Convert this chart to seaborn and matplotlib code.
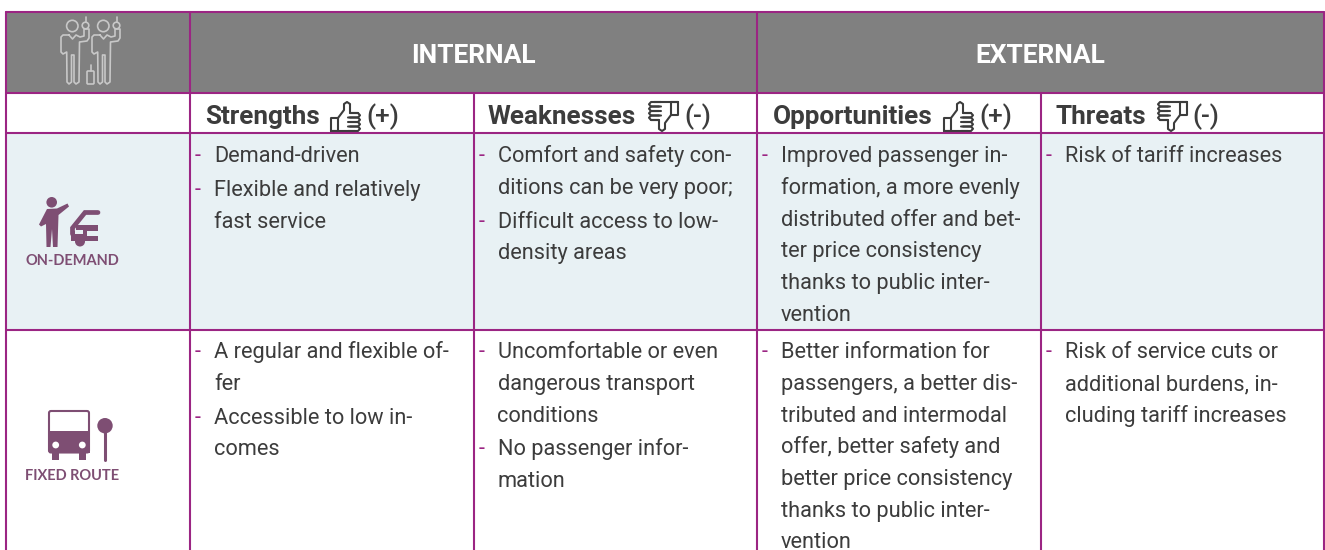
import matplotlib
matplotlib.use("Agg")
import matplotlib.pyplot as plt
import seaborn as sns
from matplotlib.patches import Circle, FancyBboxPatch

sns.set_theme(style="white")
plt.rcParams["font.family"] = ["Roboto", "DejaVu Sans"]

LINE = "#9b2583"
GREY = "#808080"
PALE = "#e8f1f4"
INK = "#3c3c3c"
ICON = "#7e4e73"
HAND = "#c8c8c8"

group_labels = ["INTERNAL", "EXTERNAL"]
column_names = ["Strengths", "Weaknesses", "Opportunities", "Threats"]
column_signs = ["(+)", "(-)", "(+)", "(-)"]
row_labels = ["ON-DEMAND", "FIXED ROUTE"]

on_demand_cells = [
    [["Demand-driven"], ["Flexible and relatively", "fast service"]],
    [["Comfort and safety con-", "ditions can be very poor;"],
     ["Difficult access to low-", "density areas"]],
    [["Improved passenger in-", "formation, a more evenly", "distributed offer and bet-",
      "ter price consistency", "thanks to public inter-", "vention"]],
    [["Risk of tariff increases"]],
]
fixed_route_cells = [
    [["A regular and flexible of-", "fer"], ["Accessible to low in-", "comes"]],
    [["Uncomfortable or even", "dangerous transport", "conditions"],
     ["No passenger infor-", "mation"]],
    [["Better information for", "passengers, a better dis-", "tributed and intermodal",
      "offer, better safety and", "better price consistency", "thanks to public inter-",
      "vention"]],
    [["Risk of service cuts or", "additional burdens, in-", "cluding tariff increases"]],
]

# table layout in pixels
col_x = [6, 190, 473.5, 757, 1041, 1323.5]
row_y = [12, 93, 132.5, 330, 552]
head_x = [205, 488, 773, 1055]
thumb_x = [331, 648, 944, 1157]
sign_x = [366, 684, 979, 1192]


def hline(ax, y, x0, x1):
    sns.lineplot(x=[x0, x1], y=[y, y], ax=ax, color=LINE, linewidth=1.5, sort=False,
                 estimator=None, legend=False, zorder=5)


def vline(ax, x, y0, y1):
    sns.lineplot(x=[x, x], y=[y0, y1], ax=ax, color=LINE, linewidth=1.5, sort=False,
                 estimator=None, legend=False, zorder=5)


def band(ax, x0, x1, y0, y1, color, z=1):
    ax.fill([x0, x1, x1, x0], [y0, y0, y1, y1], color=color, lw=0, zorder=z)


def thumb(ax, ox, oy, down=False):
    # drawn thumb up from (0,0) top left, down version is turned 180 deg
    def px(x, y):
        return (ox + 30 - x, oy + 29 - y) if down else (ox + x, oy + y)

    outline = [(0, 29), (0, 16), (7, 16), (13, 8), (13, 2), (16, 0), (19, 2), (19, 11), (27, 11)]
    ax.plot(*zip(*[px(*p) for p in outline]), color=INK, lw=1.5, zorder=4, solid_joinstyle="round")
    ax.plot(*zip(*[px(*p) for p in [(7, 16), (7, 29), (0, 29), (24, 29)]]), color=INK, lw=1.5, zorder=4)
    for y0, y1 in [(11, 15.5), (15.5, 20), (20, 24.5), (24.5, 29)]:
        ax.plot(*zip(*[px(*p) for p in [(19, y0), (27, y0), (29, (y0 + y1) / 2), (27, y1), (17, y1)]]),
                color=INK, lw=1.5, zorder=4, solid_joinstyle="round")


def person(ax, dx):
    outline = [(69, 35), (63, 35), (61, 37), (61, 52), (63, 54), (66.7, 52), (67, 82), (69, 84), (71.5, 82),
               (71.5, 55), (74, 55), (74, 82), (76, 84), (79, 82), (79.5, 42), (87, 41), (89, 38), (89, 29),
               (84, 29), (84, 36), (80, 37), (76, 35), (72.5, 39), (69, 35)]
    ax.plot([p[0] + dx for p in outline], [p[1] for p in outline], color=HAND, lw=1.2, zorder=4,
            solid_joinstyle="round")
    ax.add_patch(Circle((72.3 + dx, 26), 5.7, fc="none", ec=HAND, lw=1.2, zorder=4))
    ax.add_patch(Circle((85.5 + dx, 25.5), 3.3, fc="none", ec=HAND, lw=1.2, zorder=4))
    ax.plot([85.5 + dx, 85.5 + dx], [17, 22], color=HAND, lw=1.2, zorder=4)


def people_icon(ax):
    person(ax, 0)
    person(ax, 31)
    ax.add_patch(FancyBboxPatch((87, 71), 7, 13, boxstyle="round,pad=0,rounding_size=1", fc="none", ec=HAND,
                                lw=1.2, zorder=4))
    ax.plot([90.5, 90.5], [65, 71], color=HAND, lw=1.2, zorder=4)


def on_demand_icon(ax):
    ax.add_patch(Circle((51.7, 202.3), 5.3, color=ICON, lw=0, zorder=4))
    body = [(47, 209), (57, 208.5), (67.5, 203.5), (69, 206.5), (58.5, 215), (57.5, 247), (53, 247), (52, 229),
            (50.5, 247), (46.5, 247), (46, 224), (41, 226.5), (39, 224.5)]
    ax.fill(*zip(*body), color=ICON, lw=0, zorder=4)
    ax.plot([98, 85, 72.5, 72.5], [212.5, 212.5, 228, 234], color=ICON, lw=3.4, zorder=4, solid_joinstyle="miter")
    band(ax, 71, 98, 236, 241, ICON, 4)
    band(ax, 76, 98, 225, 231, ICON, 4)
    band(ax, 71, 87, 231, 236, ICON, 4)
    band(ax, 75, 83, 230, 233.5, PALE, 4.5)
    ax.add_patch(Circle((80, 241.5), 5, color=ICON, lw=0, zorder=4))


def bus_icon(ax):
    ax.add_patch(FancyBboxPatch((49, 411), 40, 41.5, boxstyle="round,pad=0,rounding_size=2", fc="white", ec=ICON,
                                lw=1.5, zorder=4))
    band(ax, 48.5, 89.5, 431, 453, ICON, 4.2)
    for x in [55.7, 82.3]:
        ax.add_patch(Circle((x, 445), 3.4, color="white", lw=0, zorder=4.5))
    for x in [52, 79]:
        band(ax, x, x + 7, 452, 460, ICON, 4)
    ax.add_patch(Circle((105, 425.7), 7.7, color=ICON, lw=0, zorder=4))
    ax.plot([105, 105], [430, 460], color=ICON, lw=2.2, zorder=4)


def cell_text(ax, x, baseline, bullets):
    y = baseline
    for lines in bullets:
        ax.text(x + 5, round(y), "-", color=LINE, fontsize=15.7, va="baseline", zorder=6)
        for line in lines:
            ax.text(x + 24, round(y), line, color=INK, fontsize=15.7, va="baseline", zorder=6)
            y += 31.75
        y += 2


fig = plt.figure(figsize=(13.25, 5.5), dpi=100)
ax = fig.add_axes([0, 0, 1, 1])
ax.set_xlim(0, 1325)
ax.set_ylim(550, 0)
ax.axis("off")

band(ax, col_x[0], col_x[-1], row_y[0], row_y[1], GREY)
band(ax, col_x[0], col_x[-1], row_y[2], row_y[3], PALE)

for y in row_y[:4]:
    hline(ax, y, col_x[0], col_x[-1])
for x in [col_x[0], col_x[1], col_x[3], col_x[5]]:
    vline(ax, x, row_y[0], row_y[4])
for x in [col_x[2], col_x[4]]:
    vline(ax, x, row_y[1], row_y[4])

ax.text((col_x[1] + col_x[3]) / 2, 63, group_labels[0], color="white", fontsize=19, fontweight="bold",
        ha="center", va="baseline", zorder=6)
ax.text((col_x[3] + col_x[5]) / 2, 63, group_labels[1], color="white", fontsize=19, fontweight="bold",
        ha="center", va="baseline", zorder=6)

for i, name in enumerate(column_names):
    ax.text(head_x[i], 124, name, color=INK, fontsize=18.8, fontweight="bold", va="baseline", zorder=6)
    thumb(ax, thumb_x[i], 102, down=column_signs[i] == "(-)")
    ax.text(sign_x[i], 124, column_signs[i], color=INK, fontsize=18.8, fontweight="medium", va="baseline", zorder=6)

for i in range(4):
    cell_text(ax, col_x[i + 1], 162, on_demand_cells[i])
    cell_text(ax, col_x[i + 1], 358, fixed_route_cells[i])

people_icon(ax)
on_demand_icon(ax)
bus_icon(ax)
ax.text(72, 265, row_labels[0], color=ICON, fontsize=10.5, fontweight="bold", family="Lato", ha="center",
        va="baseline", zorder=6)
ax.text(72, 480, row_labels[1], color=ICON, fontsize=10.5, fontweight="bold", family="Lato", ha="center",
        va="baseline", zorder=6)

fig.savefig("out.png", dpi=100)
